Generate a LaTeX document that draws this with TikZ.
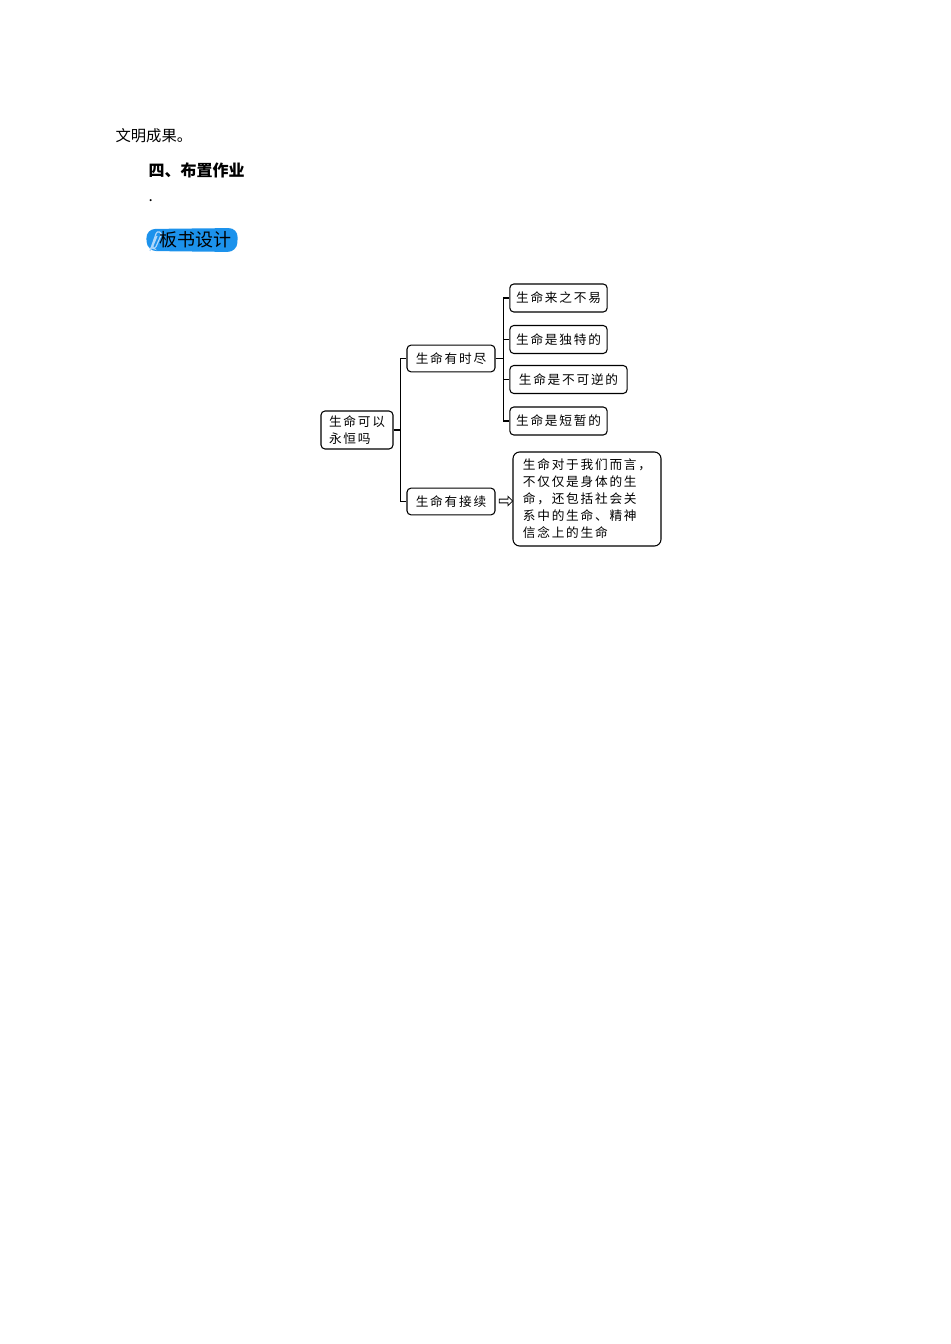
\documentclass[tikz,border=0pt]{standalone}
\usepackage{fontspec}
\setmainfont{Noto Sans CJK SC}
\usetikzlibrary{positioning,shapes.arrows}
\definecolor{markblue}{RGB}{28,146,236}
\definecolor{clipblue}{RGB}{175,215,250}

\begin{document}
\begin{tikzpicture}[x=0.75pt,y=-0.75pt,line width=0.8pt,
  box/.style={draw,rounded corners=3pt,inner sep=2pt,align=left,
    font=\fontsize{9.5}{12.75}\selectfont\addfontfeature{LetterSpace=14}},
  midbox/.style={box,minimum width=66pt,minimum height=20pt},
  leafbox/.style={box,minimum width=73pt,minimum height=21pt},
  body/.style={anchor=west,inner sep=0pt,font=\fontsize{11.5}{13}\selectfont}]
\useasboundingbox (0,0) rectangle (950,1344);

%text above
\node[body] (txt) at (115,136) {文明成果。};
\node[body,font=\fontsize{12}{14}\selectfont\bfseries] (hw) at (148,170) {四、布置作业};
\node[body] (dot) at (148,201) {.};

%blue mark
\fill[markblue,rounded corners=7pt] (146,229) -- (238,228) -- (237,252) -- (147,251) -- cycle;
\draw[clipblue,line width=0.9pt,rounded corners=2pt] (150,251) -- (157,231) -- (162,233)
  -- (155,249) -- (152,248) -- (157,236); %clip
\node[font=\fontsize{13.5}{15}\selectfont] (bs) at (195,240) {板书设计};

%boxes
\node[box,minimum width=54pt,minimum height=28.5pt] (root) at (357,430) {生命可以\\永恒吗};
\node[midbox] (end) at (451,358.5) {生命有时尽};
\node[midbox] (go) at (451,501.5) {生命有接续};
\node[leafbox] (l1) at (558.5,298) {生命来之不易};
\node[leafbox] (l2) at (558.5,339.5) {生命是独特的};
\node[leafbox,minimum width=88pt] (l3) at (568.5,379.5) {生命是不可逆的};
\node[leafbox] (l4) at (558.5,421) {生命是短暂的};
\node[box,minimum width=111pt,minimum height=70.5pt,rounded corners=5pt,inner sep=4pt]
  (note) at (587,499) {生命对于我们而言，\\不仅仅是身体的生\\命，还包括社会关\\系中的生命、精神\\信念上的生命};

%lines
\draw (root.east) -- ++(7,0) |- (end.west);
\draw (root.east) -- ++(7,0) |- (go.west);
\foreach \leaf in {l1,l2,l3,l4}
  \draw (end.east) -- ++(8,0) |- (\leaf.west);
\node[single arrow,draw,line width=0.6pt,minimum height=10pt,minimum width=7pt,
  single arrow head extend=1.5pt,inner sep=0.7pt] (arr) at (505,501) {}; %arrow
\end{tikzpicture}
\end{document}
